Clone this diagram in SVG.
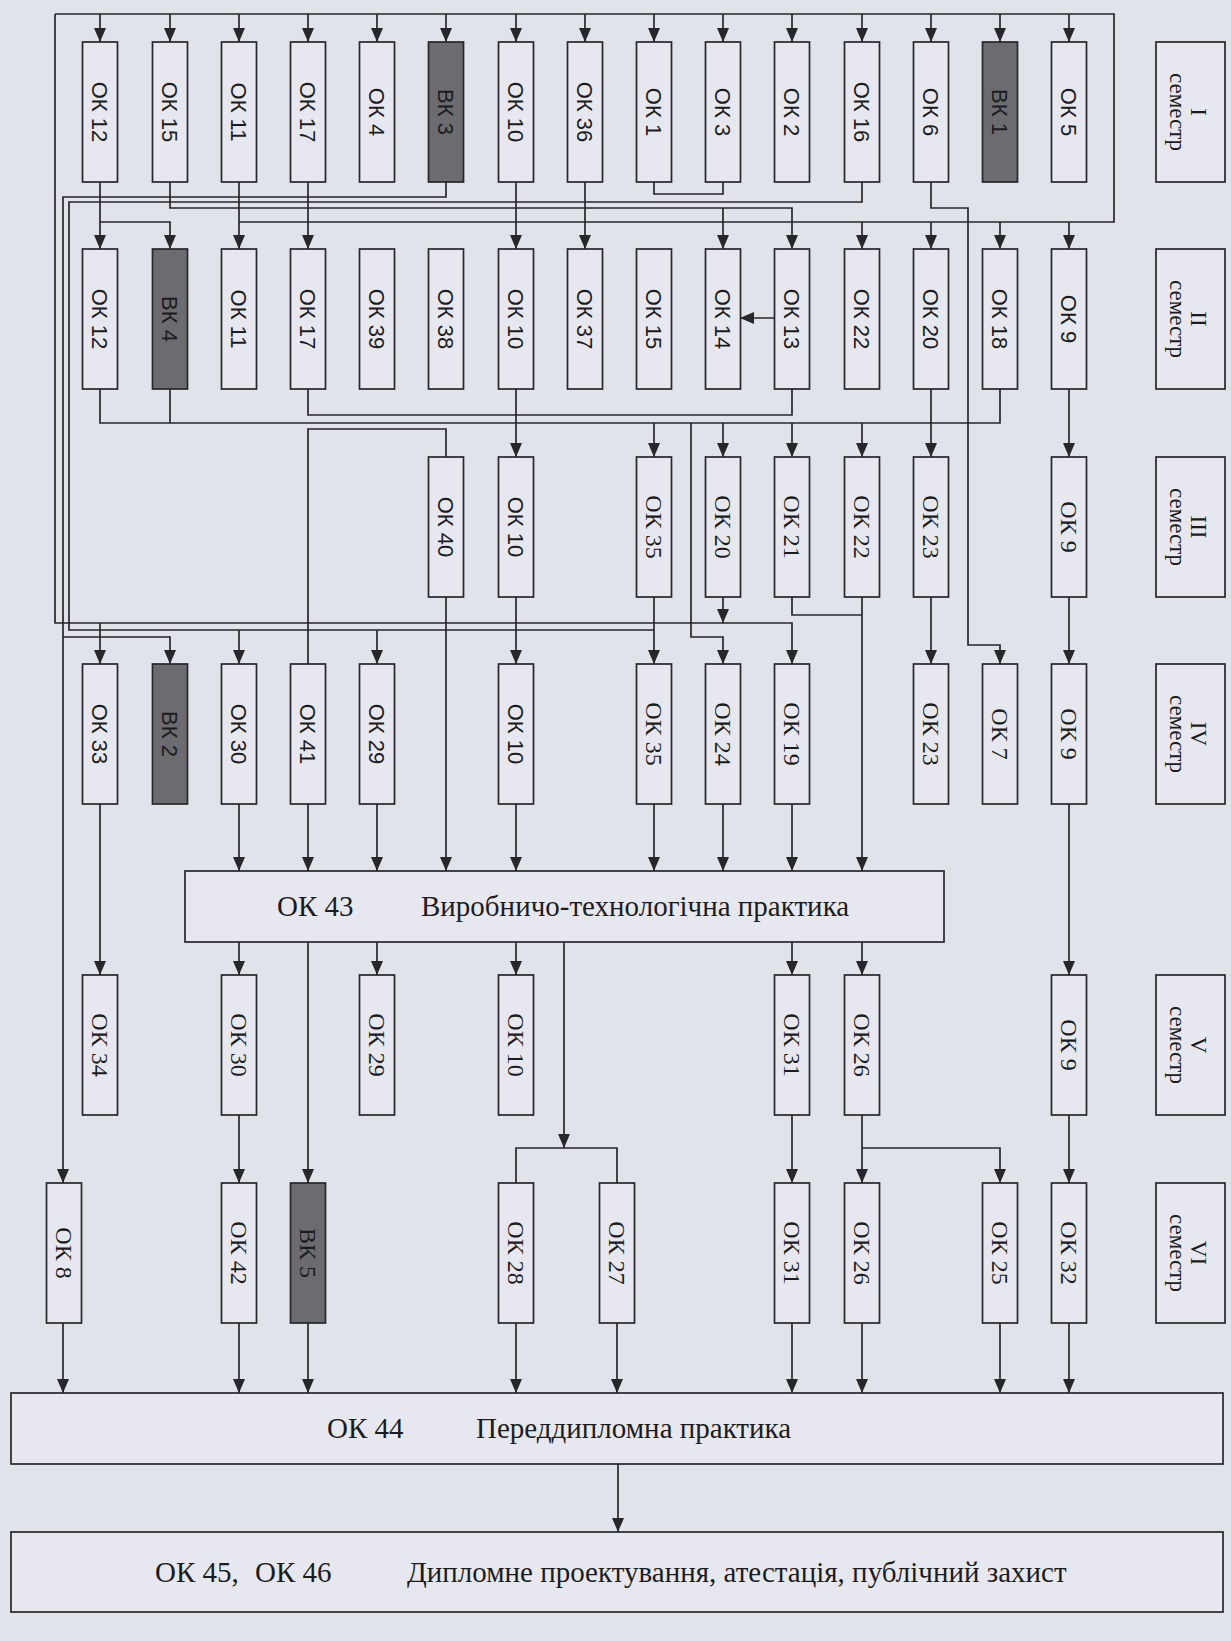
<svg xmlns="http://www.w3.org/2000/svg" width="1231" height="1641" viewBox="0 0 1231 1641">
<defs>
<marker id="ah" viewBox="0 0 14 12" refX="14" refY="6" markerWidth="14" markerHeight="12" markerUnits="userSpaceOnUse" orient="auto"><path d="M0,0 L14,6 L0,12 z" fill="#26262b"/></marker>
<style>
.b{fill:#e7e8ef;stroke:#26262b;stroke-width:1.7}
.d{fill:#6c6c70;stroke:#26262b;stroke-width:1.7}
.s{font-family:"Liberation Sans",Arial,sans-serif;font-size:22px;fill:#1c1c20;text-anchor:middle}
.r{font-family:"Liberation Serif","Times New Roman",serif;font-size:24px;fill:#1c1c20;text-anchor:middle}
.m{font-family:"Liberation Serif","Times New Roman",serif;font-size:23px;fill:#1c1c20;text-anchor:middle}
.t{font-family:"Liberation Serif","Times New Roman",serif;font-size:29px;fill:#1c1c20}
#conn path{fill:none;stroke:#26262b;stroke-width:1.7}
#conn path.a{marker-end:url(#ah)}
</style>
</defs>
<rect x="0" y="0" width="1231" height="1641" fill="#e1e3eb"/>

<g id="conn">
<path d="M55,14 H1114 V222 H239"/>
<path class="a" d="M100,14 V42"/><path class="a" d="M170,14 V42"/><path class="a" d="M239,14 V42"/><path class="a" d="M308,14 V42"/><path class="a" d="M377,14 V42"/><path class="a" d="M446,14 V42"/><path class="a" d="M516,14 V42"/><path class="a" d="M585,14 V42"/><path class="a" d="M654,14 V42"/><path class="a" d="M723,14 V42"/><path class="a" d="M792,14 V42"/><path class="a" d="M862,14 V42"/><path class="a" d="M931,14 V42"/><path class="a" d="M1000,14 V42"/><path class="a" d="M1069,14 V42"/>
<path class="a" d="M862,222 V249"/><path class="a" d="M931,222 V249"/><path class="a" d="M1000,222 V249"/><path class="a" d="M1069,222 V249"/>
<path class="a" d="M100,182 V249"/><path class="a" d="M239,182 V249"/><path class="a" d="M308,182 V249"/><path class="a" d="M516,182 V249"/><path class="a" d="M585,182 V249"/>
<path class="a" d="M100,222 H170 V249"/>
<path class="a" d="M170,182 V208 H792 V249"/><path class="a" d="M723,208 V249"/>
<path d="M654,182 V194 H723 V182"/>
<path d="M862,182 V202 H69 V630 H654"/><path class="a" d="M239,630 V664"/><path class="a" d="M377,630 V664"/>
<path class="a" d="M446,182 V197 H63 V1183"/>
<path class="a" d="M63,637 H170 V664"/>
<path class="a" d="M931,182 V208 H968 V645 H1000 V664"/>
<path class="a" d="M775,318 H740"/>
<path d="M308,389 V415 H792 V389"/>
<path d="M100,389 V423 H1000 V389"/><path d="M170,389 V423"/>
<path class="a" d="M654,423 V457"/><path class="a" d="M723,423 V457"/><path class="a" d="M792,423 V457"/><path class="a" d="M862,423 V457"/>
<path class="a" d="M691,423 V637 H723 V664"/>
<path class="a" d="M931,389 V457"/><path class="a" d="M516,389 V457"/><path class="a" d="M1069,389 V457"/>
<path d="M308,664 V429 H446 V457"/>
<path class="a" d="M446,597 V871"/><path class="a" d="M516,597 V664"/><path class="a" d="M654,597 V664"/><path class="a" d="M723,597 V623"/><path d="M792,597 V615 H862"/><path class="a" d="M862,597 V871"/><path class="a" d="M931,597 V664"/><path class="a" d="M1069,597 V664"/>
<path class="a" d="M55,14 V623 H792 V664"/><path class="a" d="M100,623 V664"/>
<path class="a" d="M239,804 V871"/><path class="a" d="M308,804 V871"/><path class="a" d="M377,804 V871"/><path class="a" d="M516,804 V871"/><path class="a" d="M654,804 V871"/><path class="a" d="M723,804 V871"/><path class="a" d="M792,804 V871"/>
<path class="a" d="M100,804 V975"/><path class="a" d="M1069,804 V975"/>
<path class="a" d="M239,942 V975"/><path class="a" d="M377,942 V975"/><path class="a" d="M516,942 V975"/><path class="a" d="M792,942 V975"/><path class="a" d="M862,942 V975"/>
<path class="a" d="M308,942 V1183"/><path class="a" d="M564,942 V1148"/><path d="M516,1183 V1148 H617 V1183"/>
<path class="a" d="M239,1115 V1183"/><path class="a" d="M792,1115 V1183"/><path class="a" d="M862,1115 V1183"/><path class="a" d="M862,1148 H1000 V1183"/><path class="a" d="M1069,1115 V1183"/>
<path class="a" d="M63,1323 V1393"/><path class="a" d="M239,1323 V1393"/><path class="a" d="M308,1323 V1393"/><path class="a" d="M516,1323 V1393"/><path class="a" d="M617,1323 V1393"/><path class="a" d="M792,1323 V1393"/><path class="a" d="M862,1323 V1393"/><path class="a" d="M1000,1323 V1393"/><path class="a" d="M1069,1323 V1393"/>
<path class="a" d="M618,1464 V1532"/>
</g>

<!-- Row I -->
<g id="r1c1"><rect class="b" x="82.5" y="42" width="35" height="140"/><text class="s" transform="translate(100,112) rotate(90)" dy="0.36em">ОК 12</text></g>
<g id="r1c2"><rect class="b" x="152.5" y="42" width="35" height="140"/><text class="s" transform="translate(170,112) rotate(90)" dy="0.36em">ОК 15</text></g>
<g id="r1c3"><rect class="b" x="221.5" y="42" width="35" height="140"/><text class="s" transform="translate(239,112) rotate(90)" dy="0.36em">ОК 11</text></g>
<g id="r1c4"><rect class="b" x="290.5" y="42" width="35" height="140"/><text class="s" transform="translate(308,112) rotate(90)" dy="0.36em">ОК 17</text></g>
<g id="r1c5"><rect class="b" x="359.5" y="42" width="35" height="140"/><text class="s" transform="translate(377,112) rotate(90)" dy="0.36em">ОК 4</text></g>
<g id="r1c6"><rect class="d" x="428.5" y="42" width="35" height="140"/><text class="s" transform="translate(446,112) rotate(90)" dy="0.36em">ВК 3</text></g>
<g id="r1c7"><rect class="b" x="498.5" y="42" width="35" height="140"/><text class="s" transform="translate(516,112) rotate(90)" dy="0.36em">ОК 10</text></g>
<g id="r1c8"><rect class="b" x="567.5" y="42" width="35" height="140"/><text class="s" transform="translate(585,112) rotate(90)" dy="0.36em">ОК 36</text></g>
<g id="r1c9"><rect class="b" x="636.5" y="42" width="35" height="140"/><text class="s" transform="translate(654,112) rotate(90)" dy="0.36em">ОК 1</text></g>
<g id="r1c10"><rect class="b" x="705.5" y="42" width="35" height="140"/><text class="s" transform="translate(723,112) rotate(90)" dy="0.36em">ОК 3</text></g>
<g id="r1c11"><rect class="b" x="774.5" y="42" width="35" height="140"/><text class="s" transform="translate(792,112) rotate(90)" dy="0.36em">ОК 2</text></g>
<g id="r1c12"><rect class="b" x="844.5" y="42" width="35" height="140"/><text class="s" transform="translate(862,112) rotate(90)" dy="0.36em">ОК 16</text></g>
<g id="r1c13"><rect class="b" x="913.5" y="42" width="35" height="140"/><text class="s" transform="translate(931,112) rotate(90)" dy="0.36em">ОК 6</text></g>
<g id="r1c14"><rect class="d" x="982.5" y="42" width="35" height="140"/><text class="s" transform="translate(1000,112) rotate(90)" dy="0.36em">ВК 1</text></g>
<g id="r1c15"><rect class="b" x="1051.5" y="42" width="35" height="140"/><text class="s" transform="translate(1069,112) rotate(90)" dy="0.36em">ОК 5</text></g>

<!-- Row II -->
<g id="r2c1"><rect class="b" x="82.5" y="249" width="35" height="140"/><text class="s" transform="translate(100,319) rotate(90)" dy="0.36em">ОК 12</text></g>
<g id="r2c2"><rect class="d" x="152.5" y="249" width="35" height="140"/><text class="s" transform="translate(170,319) rotate(90)" dy="0.36em">ВК 4</text></g>
<g id="r2c3"><rect class="b" x="221.5" y="249" width="35" height="140"/><text class="s" transform="translate(239,319) rotate(90)" dy="0.36em">ОК 11</text></g>
<g id="r2c4"><rect class="b" x="290.5" y="249" width="35" height="140"/><text class="s" transform="translate(308,319) rotate(90)" dy="0.36em">ОК 17</text></g>
<g id="r2c5"><rect class="b" x="359.5" y="249" width="35" height="140"/><text class="s" transform="translate(377,319) rotate(90)" dy="0.36em">ОК 39</text></g>
<g id="r2c6"><rect class="b" x="428.5" y="249" width="35" height="140"/><text class="s" transform="translate(446,319) rotate(90)" dy="0.36em">ОК 38</text></g>
<g id="r2c7"><rect class="b" x="498.5" y="249" width="35" height="140"/><text class="s" transform="translate(516,319) rotate(90)" dy="0.36em">ОК 10</text></g>
<g id="r2c8"><rect class="b" x="567.5" y="249" width="35" height="140"/><text class="s" transform="translate(585,319) rotate(90)" dy="0.36em">ОК 37</text></g>
<g id="r2c9"><rect class="b" x="636.5" y="249" width="35" height="140"/><text class="s" transform="translate(654,319) rotate(90)" dy="0.36em">ОК 15</text></g>
<g id="r2c10"><rect class="b" x="705.5" y="249" width="35" height="140"/><text class="s" transform="translate(723,319) rotate(90)" dy="0.36em">ОК 14</text></g>
<g id="r2c11"><rect class="b" x="774.5" y="249" width="35" height="140"/><text class="s" transform="translate(792,319) rotate(90)" dy="0.36em">ОК 13</text></g>
<g id="r2c12"><rect class="b" x="844.5" y="249" width="35" height="140"/><text class="s" transform="translate(862,319) rotate(90)" dy="0.36em">ОК 22</text></g>
<g id="r2c13"><rect class="b" x="913.5" y="249" width="35" height="140"/><text class="s" transform="translate(931,319) rotate(90)" dy="0.36em">ОК 20</text></g>
<g id="r2c14"><rect class="b" x="982.5" y="249" width="35" height="140"/><text class="s" transform="translate(1000,319) rotate(90)" dy="0.36em">ОК 18</text></g>
<g id="r2c15"><rect class="b" x="1051.5" y="249" width="35" height="140"/><text class="s" transform="translate(1069,319) rotate(90)" dy="0.36em">ОК 9</text></g>

<!-- Row III -->
<g id="r3c6"><rect class="b" x="428.5" y="457" width="35" height="140"/><text class="s" transform="translate(446,527) rotate(90)" dy="0.36em">ОК 40</text></g>
<g id="r3c7"><rect class="b" x="498.5" y="457" width="35" height="140"/><text class="s" transform="translate(516,527) rotate(90)" dy="0.36em">ОК 10</text></g>
<g id="r3c9"><rect class="b" x="636.5" y="457" width="35" height="140"/><text class="r" transform="translate(654,527) rotate(90)" dy="0.33em">ОК 35</text></g>
<g id="r3c10"><rect class="b" x="705.5" y="457" width="35" height="140"/><text class="r" transform="translate(723,527) rotate(90)" dy="0.33em">ОК 20</text></g>
<g id="r3c11"><rect class="b" x="774.5" y="457" width="35" height="140"/><text class="r" transform="translate(792,527) rotate(90)" dy="0.33em">ОК 21</text></g>
<g id="r3c12"><rect class="b" x="844.5" y="457" width="35" height="140"/><text class="r" transform="translate(862,527) rotate(90)" dy="0.33em">ОК 22</text></g>
<g id="r3c13"><rect class="b" x="913.5" y="457" width="35" height="140"/><text class="r" transform="translate(931,527) rotate(90)" dy="0.33em">ОК 23</text></g>
<g id="r3c15"><rect class="b" x="1051.5" y="457" width="35" height="140"/><text class="r" transform="translate(1069,527) rotate(90)" dy="0.33em">ОК 9</text></g>

<!-- Row IV -->
<g id="r4c1"><rect class="b" x="82.5" y="664" width="35" height="140"/><text class="s" transform="translate(100,734) rotate(90)" dy="0.36em">ОК 33</text></g>
<g id="r4c2"><rect class="d" x="152.5" y="664" width="35" height="140"/><text class="s" transform="translate(170,734) rotate(90)" dy="0.36em">ВК 2</text></g>
<g id="r4c3"><rect class="b" x="221.5" y="664" width="35" height="140"/><text class="s" transform="translate(239,734) rotate(90)" dy="0.36em">ОК 30</text></g>
<g id="r4c4"><rect class="b" x="290.5" y="664" width="35" height="140"/><text class="s" transform="translate(308,734) rotate(90)" dy="0.36em">ОК 41</text></g>
<g id="r4c5"><rect class="b" x="359.5" y="664" width="35" height="140"/><text class="s" transform="translate(377,734) rotate(90)" dy="0.36em">ОК 29</text></g>
<g id="r4c7"><rect class="b" x="498.5" y="664" width="35" height="140"/><text class="s" transform="translate(516,734) rotate(90)" dy="0.36em">ОК 10</text></g>
<g id="r4c9"><rect class="b" x="636.5" y="664" width="35" height="140"/><text class="r" transform="translate(654,734) rotate(90)" dy="0.33em">ОК 35</text></g>
<g id="r4c10"><rect class="b" x="705.5" y="664" width="35" height="140"/><text class="r" transform="translate(723,734) rotate(90)" dy="0.33em">ОК 24</text></g>
<g id="r4c11"><rect class="b" x="774.5" y="664" width="35" height="140"/><text class="r" transform="translate(792,734) rotate(90)" dy="0.33em">ОК 19</text></g>
<g id="r4c13"><rect class="b" x="913.5" y="664" width="35" height="140"/><text class="r" transform="translate(931,734) rotate(90)" dy="0.33em">ОК 23</text></g>
<g id="r4c14"><rect class="b" x="982.5" y="664" width="35" height="140"/><text class="r" transform="translate(1000,734) rotate(90)" dy="0.33em">ОК 7</text></g>
<g id="r4c15"><rect class="b" x="1051.5" y="664" width="35" height="140"/><text class="r" transform="translate(1069,734) rotate(90)" dy="0.33em">ОК 9</text></g>

<!-- OK 43 -->
<g id="ok43"><rect class="b" x="185" y="871" width="759" height="71"/><text class="t" x="277" y="916">ОК 43</text><text class="t" x="421" y="916">Виробничо-технологічна практика</text></g>

<!-- Row V -->
<g id="r5c1"><rect class="b" x="82.5" y="975" width="35" height="140"/><text class="r" transform="translate(100,1045) rotate(90)" dy="0.33em">ОК 34</text></g>
<g id="r5c3"><rect class="b" x="221.5" y="975" width="35" height="140"/><text class="r" transform="translate(239,1045) rotate(90)" dy="0.33em">ОК 30</text></g>
<g id="r5c5"><rect class="b" x="359.5" y="975" width="35" height="140"/><text class="r" transform="translate(377,1045) rotate(90)" dy="0.33em">ОК 29</text></g>
<g id="r5c7"><rect class="b" x="498.5" y="975" width="35" height="140"/><text class="r" transform="translate(516,1045) rotate(90)" dy="0.33em">ОК 10</text></g>
<g id="r5c11"><rect class="b" x="774.5" y="975" width="35" height="140"/><text class="r" transform="translate(792,1045) rotate(90)" dy="0.33em">ОК 31</text></g>
<g id="r5c12"><rect class="b" x="844.5" y="975" width="35" height="140"/><text class="r" transform="translate(862,1045) rotate(90)" dy="0.33em">ОК 26</text></g>
<g id="r5c15"><rect class="b" x="1051.5" y="975" width="35" height="140"/><text class="r" transform="translate(1069,1045) rotate(90)" dy="0.33em">ОК 9</text></g>

<!-- Row VI -->
<g id="r6ok8"><rect class="b" x="46.5" y="1183" width="35" height="140"/><text class="r" transform="translate(64,1253) rotate(90)" dy="0.33em">ОК 8</text></g>
<g id="r6c3"><rect class="b" x="221.5" y="1183" width="35" height="140"/><text class="r" transform="translate(239,1253) rotate(90)" dy="0.33em">ОК 42</text></g>
<g id="r6c4"><rect class="d" x="290.5" y="1183" width="35" height="140"/><text class="r" transform="translate(308,1253) rotate(90)" dy="0.33em">ВК 5</text></g>
<g id="r6c7"><rect class="b" x="498.5" y="1183" width="35" height="140"/><text class="r" transform="translate(516,1253) rotate(90)" dy="0.33em">ОК 28</text></g>
<g id="r6ok27"><rect class="b" x="599.5" y="1183" width="35" height="140"/><text class="r" transform="translate(617,1253) rotate(90)" dy="0.33em">ОК 27</text></g>
<g id="r6c11"><rect class="b" x="774.5" y="1183" width="35" height="140"/><text class="r" transform="translate(792,1253) rotate(90)" dy="0.33em">ОК 31</text></g>
<g id="r6c12"><rect class="b" x="844.5" y="1183" width="35" height="140"/><text class="r" transform="translate(862,1253) rotate(90)" dy="0.33em">ОК 26</text></g>
<g id="r6c14"><rect class="b" x="982.5" y="1183" width="35" height="140"/><text class="r" transform="translate(1000,1253) rotate(90)" dy="0.33em">ОК 25</text></g>
<g id="r6c15"><rect class="b" x="1051.5" y="1183" width="35" height="140"/><text class="r" transform="translate(1069,1253) rotate(90)" dy="0.33em">ОК 32</text></g>

<!-- OK 44 and final -->
<g id="ok44"><rect class="b" x="11" y="1393" width="1212" height="71"/><text class="t" x="327" y="1438">ОК 44</text><text class="t" x="476" y="1438">Переддипломна практика</text></g>
<g id="final"><rect class="b" x="11" y="1532" width="1212" height="80"/><text class="t" x="155" y="1582">ОК 45,<tspan x="255">ОК 46</tspan></text><text class="t" x="407" y="1582">Дипломне проектування, атестація, публічний захист</text></g>

<!-- Semesters -->
<g id="sem1"><rect class="b" x="1156" y="42" width="69" height="140"/><text class="m" transform="translate(1199,112) rotate(90)" dy="0.33em">I</text><text class="m" transform="translate(1175,112) rotate(90)" dy="0.22em">семестр</text></g>
<g id="sem2"><rect class="b" x="1156" y="249" width="69" height="140"/><text class="m" transform="translate(1199,319) rotate(90)" dy="0.33em">II</text><text class="m" transform="translate(1175,319) rotate(90)" dy="0.22em">семестр</text></g>
<g id="sem3"><rect class="b" x="1156" y="457" width="69" height="140"/><text class="m" transform="translate(1199,527) rotate(90)" dy="0.33em">III</text><text class="m" transform="translate(1175,527) rotate(90)" dy="0.22em">семестр</text></g>
<g id="sem4"><rect class="b" x="1156" y="664" width="69" height="140"/><text class="m" transform="translate(1199,734) rotate(90)" dy="0.33em">IV</text><text class="m" transform="translate(1175,734) rotate(90)" dy="0.22em">семестр</text></g>
<g id="sem5"><rect class="b" x="1156" y="975" width="69" height="140"/><text class="m" transform="translate(1199,1045) rotate(90)" dy="0.33em">V</text><text class="m" transform="translate(1175,1045) rotate(90)" dy="0.22em">семестр</text></g>
<g id="sem6"><rect class="b" x="1156" y="1183" width="69" height="140"/><text class="m" transform="translate(1199,1253) rotate(90)" dy="0.33em">VI</text><text class="m" transform="translate(1175,1253) rotate(90)" dy="0.22em">семестр</text></g>
</svg>
